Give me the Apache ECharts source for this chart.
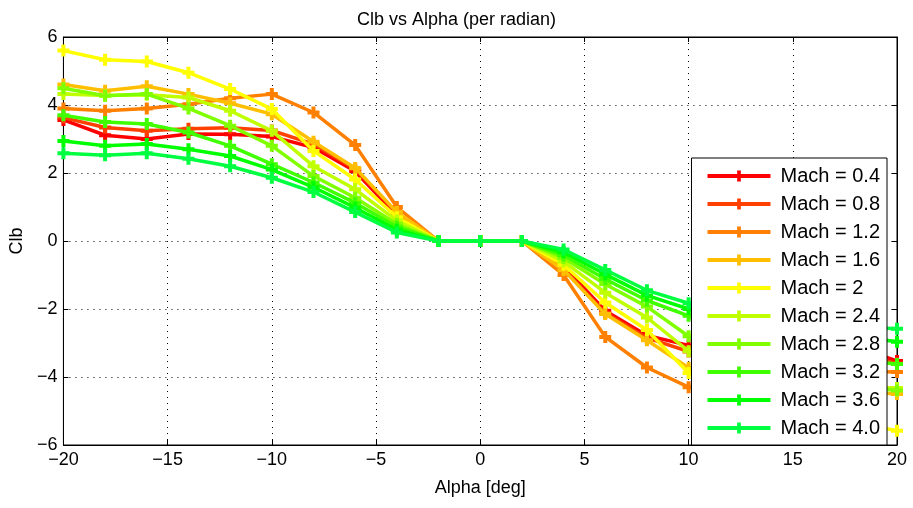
<!DOCTYPE html>
<html>
<head>
<meta charset="utf-8">
<script src="https://cdn.jsdelivr.net/npm/echarts@6/dist/echarts.min.js"></script>
<style>html,body{margin:0;padding:0;background:#fff}#c{width:913px;height:508px}</style>
</head>
<body>
<div id="c"></div>
<script>
const alpha = [-20,-18,-16,-14,-12,-10,-8,-6,-4,-2,0,2,4,6,8,10,12,14,16,18,20];
const machNames = ['Mach = 0.4','Mach = 0.8','Mach = 1.2','Mach = 1.6','Mach = 2','Mach = 2.4','Mach = 2.8','Mach = 3.2','Mach = 3.6','Mach = 4.0'];
const machColors = ['#ff0000','#ff4000','#ff8000','#ffbf00','#ffff00','#bfff00','#80ff00','#40ff00','#00ff00','#00ff40'];
const clbM04 = [3.56,3.11,3.00,3.15,3.14,3.07,2.75,2.05,0.75,0,0,0,-0.75,-2.05,-2.78,-3.07,-3.14,-3.15,-3.00,-3.11,-3.53];
const clbM08 = [3.63,3.34,3.24,3.30,3.33,3.25,2.85,2.12,0.82,0,0,0,-0.82,-2.12,-2.85,-3.25,-3.33,-3.30,-3.24,-3.34,-3.60];
const clbM12 = [3.90,3.83,3.90,4.02,4.20,4.32,3.78,2.82,1.00,0,0,0,-1.00,-2.82,-3.72,-4.30,-4.20,-4.02,-3.90,-3.83,-3.85];
const clbM16 = [4.60,4.42,4.55,4.32,4.05,3.73,2.92,2.15,0.85,0,0,0,-0.85,-2.15,-2.92,-3.73,-4.05,-4.32,-4.55,-4.42,-4.50];
const clbM20 = [5.60,5.33,5.28,4.95,4.47,3.88,2.65,1.81,0.70,0,0,0,-0.70,-1.81,-2.62,-3.88,-4.47,-4.95,-5.28,-5.33,-5.58];
const clbM24 = [4.32,4.28,4.30,4.22,3.83,3.24,2.20,1.52,0.60,0,0,0,-0.60,-1.52,-2.25,-3.24,-3.83,-4.22,-4.30,-4.28,-4.32];
const clbM28 = [4.49,4.27,4.32,3.90,3.39,2.80,1.91,1.27,0.50,0,0,0,-0.50,-1.27,-1.93,-2.80,-3.39,-3.90,-4.32,-4.27,-4.40];
const clbM32 = [3.70,3.50,3.44,3.19,2.80,2.26,1.72,1.12,0.42,0,0,0,-0.42,-1.12,-1.75,-2.20,-2.80,-3.19,-3.44,-3.50,-3.62];
const clbM36 = [2.94,2.80,2.85,2.70,2.50,2.10,1.58,0.98,0.33,0,0,0,-0.33,-0.98,-1.60,-2.00,-2.50,-2.70,-2.85,-2.80,-2.96];
const clbM40 = [2.58,2.52,2.58,2.42,2.20,1.86,1.44,0.85,0.25,0,0,0,-0.25,-0.85,-1.45,-1.83,-2.20,-2.42,-2.58,-2.52,-2.58];
const clbAll = [clbM04,clbM08,clbM12,clbM16,clbM20,clbM24,clbM28,clbM32,clbM36,clbM40];

const FONT = 'Liberation Sans, Arial, sans-serif';
const plus = 'path://M-1,-3L1,-3L1,-1L3,-1L3,1L1,1L1,3L-1,3L-1,1L-3,1L-3,-1L-1,-1Z';
const fmt = v => String(v).replace('-', '\u2212');

const chart = echarts.init(document.getElementById('c'), null, {renderer:'canvas'});
const series = clbAll.map((arr, i) => ({
  name: machNames[i],
  type: 'line',
  data: alpha.map((a, j) => [a, arr[j]]),
  symbol: plus,
  symbolSize: 12,
  lineStyle: {width: 3.5, color: machColors[i]},
  itemStyle: {color: machColors[i]},
  animation: false,
  z: 2 + i*0.01
}));

const axisCommon = {
  axisLine: {show: true, onZero: false, lineStyle: {color: '#000', width: 1}},
  axisTick: {show: true, inside: true, length: 5, lineStyle: {color: '#000'}},
};

chart.setOption({
  animation: false,
  backgroundColor: '#fff',
  title: {
    text: 'Clb vs Alpha (per radian)',
    left: 'center', top: 6,
    textStyle: {fontFamily: FONT, fontSize: 18, fontWeight: 'normal', color: '#000'}
  },
  grid: {left: 62, right: 16, top: 37, bottom: 63, show: true, borderColor: '#000', borderWidth: 1},
  legend: {
    orient: 'vertical',
    right: 26, top: 158,
    backgroundColor: '#fff',
    borderColor: '#000', borderWidth: 1,
    padding: [8, 7, 7, 14],
    itemWidth: 63, itemHeight: 14,
    itemGap: 8,
    lineStyle: {width: 4},
    textStyle: {fontFamily: FONT, fontSize: 20, color: '#000', lineHeight: 20, padding: [0,0,0,5]},
    data: machNames,
    z: 10
  },
  xAxis: [{
    type: 'value', min: -20, max: 20, interval: 5,
    name: 'Alpha [deg]', nameLocation: 'middle', nameGap: 34,
    nameTextStyle: {fontFamily: FONT, fontSize: 18, color: '#000'},
    axisLabel: {fontFamily: FONT, fontSize: 18, color: '#000', margin: 6, formatter: fmt},
    splitLine: {show: true, lineStyle: {color: '#000', type: [1,5], width: 1}},
    ...axisCommon
  }, {
    type: 'value', min: -20, max: 20, interval: 5, position: 'top',
    axisLabel: {show: false}, splitLine: {show: false},
    ...axisCommon
  }],
  yAxis: [{
    type: 'value', min: -6, max: 6, interval: 2,
    name: 'Clb', nameLocation: 'middle', nameGap: 32,
    nameTextStyle: {fontFamily: FONT, fontSize: 18, color: '#000'},
    axisLabel: {fontFamily: FONT, fontSize: 18, color: '#000', margin: 6, formatter: fmt},
    splitLine: {show: true, lineStyle: {color: '#000', type: [1,5], width: 1}},
    ...axisCommon
  }, {
    type: 'value', min: -6, max: 6, interval: 2, position: 'right',
    axisLabel: {show: false}, splitLine: {show: false},
    ...axisCommon
  }],
  series: series
});
</script>
</body>
</html>
